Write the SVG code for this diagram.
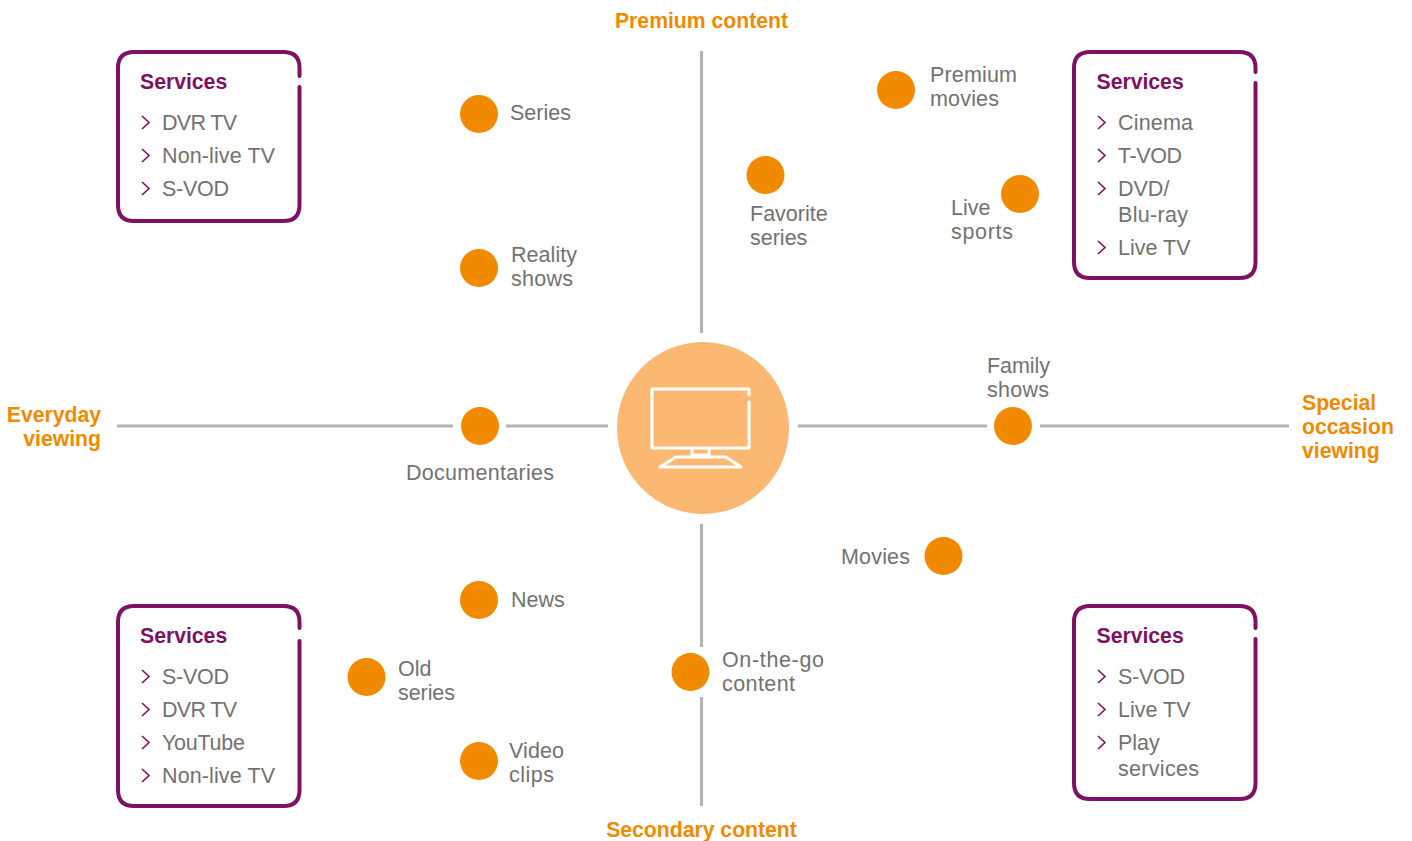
<svg xmlns="http://www.w3.org/2000/svg" width="1412" height="841" viewBox="0 0 1412 841">
<style>
text{font-family:"Liberation Sans",Arial,sans-serif;font-size:21.5px;fill:#727272}
.o{fill:#f28a00;font-weight:700;font-size:21.2px}
.h{fill:#7d1163;font-weight:700;font-size:21.2px}
.d{fill:#f28a00}
.b{fill:none;stroke:#7d1163;stroke-width:4;stroke-linecap:round}
.c{fill:none;stroke:#7d1163;stroke-width:1.6}
.l{stroke:#b3b3b3;stroke-width:3;fill:none}
.t{fill:none;stroke:#fff;stroke-width:3.2;stroke-linejoin:round;stroke-linecap:round}
</style>
<defs><path id="ch" class="c" d="M0 0L7 6.500L0 13"/></defs>
<rect width="1412" height="841" fill="#fff"/>
<g id="connectors">
<path class="l" d="M701.500 51V333M701.500 524V647M701.500 697V806M117 426H453M506 426H608M798 426H987M1040 426H1289"/>
</g>
<g id="hub"><circle cx="703" cy="428" r="86" fill="#fab872"/>
<path class="t" d="M749 395V389H652V448H749V402M692 449V457M709 449V457M692 455H709M676 457H726L741 467H660Z"/></g>
<g id="axis-labels">
<text class="o" x="701.500" y="28" text-anchor="middle">Premium content</text>
<text class="o" x="701.500" y="837" text-anchor="middle">Secondary content</text>
<text class="o" x="101" y="422" text-anchor="end">Everyday</text><text class="o" x="101" y="446" text-anchor="end">viewing</text>
<text class="o" x="1302" y="410">Special</text><text class="o" x="1302" y="434">occasion</text><text class="o" x="1302" y="458">viewing</text>
</g>
<g id="box-tl"><path class="b" d="M299.500 76V68Q299.500 52 283.500 52H134Q118 52 118 68V205Q118 221 134 221H283.500Q299.500 221 299.500 205V87"/>
<text class="h" x="140" y="89">Services</text>
<use href="#ch" x="142" y="116"/><text x="162" y="130" textLength="75">DVR TV</text>
<use href="#ch" x="142" y="149"/><text x="162" y="163" textLength="113">Non-live TV</text>
<use href="#ch" x="142" y="182"/><text x="162" y="196" textLength="67">S-VOD</text></g>
<g id="box-tr"><path class="b" d="M1255.500 72V68Q1255.500 52 1239.500 52H1090Q1074 52 1074 68V262Q1074 278 1090 278H1239.500Q1255.500 278 1255.500 262V83"/>
<text class="h" x="1096.500" y="89">Services</text>
<use href="#ch" x="1098" y="116"/><text x="1118" y="130" textLength="75">Cinema</text>
<use href="#ch" x="1098" y="149"/><text x="1118" y="163" textLength="64">T-VOD</text>
<use href="#ch" x="1098" y="182"/><text x="1118" y="196">DVD/</text><text x="1118" y="222" textLength="70">Blu-ray</text>
<use href="#ch" x="1098" y="241"/><text x="1118" y="255">Live TV</text></g>
<g id="box-bl"><path class="b" d="M299.500 628V622Q299.500 606 283.500 606H134Q118 606 118 622V790Q118 806 134 806H283.500Q299.500 806 299.500 790V641"/>
<text class="h" x="140" y="643">Services</text>
<use href="#ch" x="142" y="670"/><text x="162" y="684" textLength="67">S-VOD</text>
<use href="#ch" x="142" y="703"/><text x="162" y="717" textLength="75">DVR TV</text>
<use href="#ch" x="142" y="736"/><text x="162" y="750" textLength="83">YouTube</text>
<use href="#ch" x="142" y="769"/><text x="162" y="783" textLength="113">Non-live TV</text></g>
<g id="box-br"><path class="b" d="M1255.500 628V622Q1255.500 606 1239.500 606H1090Q1074 606 1074 622V783Q1074 799 1090 799H1239.500Q1255.500 799 1255.500 783V639"/>
<text class="h" x="1096.500" y="643">Services</text>
<use href="#ch" x="1098" y="670"/><text x="1118" y="684" textLength="67">S-VOD</text>
<use href="#ch" x="1098" y="703"/><text x="1118" y="717">Live TV</text>
<use href="#ch" x="1098" y="736"/><text x="1118" y="750">Play</text><text x="1118" y="776" textLength="81">services</text></g>
<g id="n-series"><circle class="d" cx="479" cy="114" r="19"/><text x="510" y="120">Series</text></g>
<g id="n-reality"><circle class="d" cx="479" cy="268" r="19"/><text x="511" y="262" textLength="66">Reality</text><text x="511" y="286" textLength="62">shows</text></g>
<g id="n-docs"><circle class="d" cx="480" cy="426" r="19"/><text x="406" y="480" textLength="148">Documentaries</text></g>
<g id="n-news"><circle class="d" cx="479" cy="600" r="19"/><text x="511" y="607">News</text></g>
<g id="n-old"><circle class="d" cx="366.500" cy="677" r="19"/><text x="398" y="676">Old</text><text x="398" y="700" textLength="57">series</text></g>
<g id="n-clips"><circle class="d" cx="479" cy="761" r="19"/><text x="509" y="758" textLength="55">Video</text><text x="509" y="782" textLength="45">clips</text></g>
<g id="n-otg"><circle class="d" cx="690.500" cy="672" r="19"/><text x="722" y="667" textLength="102">On-the-go</text><text x="722" y="691" textLength="73">content</text></g>
<g id="n-movies"><circle class="d" cx="943.500" cy="556" r="19"/><text x="841" y="564" textLength="69">Movies</text></g>
<g id="n-family"><circle class="d" cx="1013" cy="426" r="19"/><text x="987" y="373" textLength="63">Family</text><text x="987" y="397" textLength="62">shows</text></g>
<g id="n-fav"><circle class="d" cx="765.500" cy="175" r="19"/><text x="750" y="221">Favorite</text><text x="750" y="245">series</text></g>
<g id="n-prem"><circle class="d" cx="896" cy="90" r="19"/><text x="930" y="82" textLength="87">Premium</text><text x="930" y="106" textLength="69">movies</text></g>
<g id="n-sports"><circle class="d" cx="1020" cy="194" r="19"/><text x="951" y="215">Live</text><text x="951" y="239" textLength="62">sports</text></g>
</svg>
